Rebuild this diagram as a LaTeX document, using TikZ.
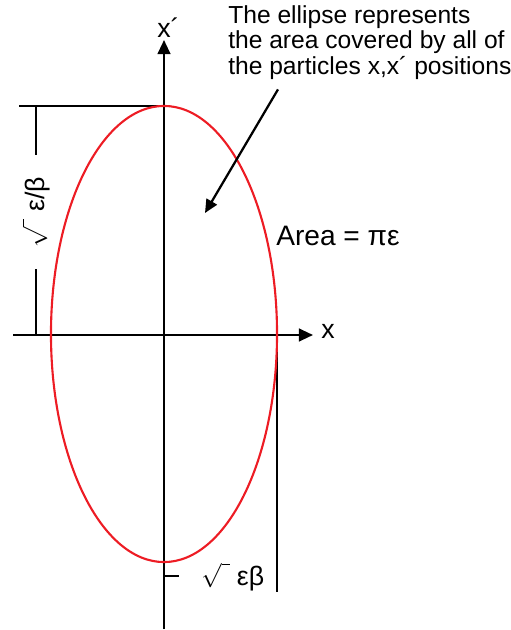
\documentclass[tikz,border=0pt]{standalone}
\usepackage{fontspec}
\setmainfont{Liberation Sans}
\usetikzlibrary{arrows.meta, positioning}
\definecolor{ellred}{RGB}{237,28,36}

\begin{document}
\begin{tikzpicture}[
    x=0.025cm, y=-0.025cm,
    every node/.style={inner sep=0pt},
    axis/.style={line width=1.6pt, -{Triangle[length=10pt, width=9pt]}},
    dimline/.style={line width=1.7pt},
    curve/.style={draw=ellred, line width=1.5pt},
    pointer/.style={line width=1.6pt, -{Triangle[length=9.5pt, width=8.5pt]}},
    tag/.style={font=\fontsize{19}{22}\selectfont},
    note/.style={align=left, font=\fontsize{17.5}{18.1}\selectfont}
]
\useasboundingbox (0,0) rectangle (511,630);

% Axes
\coordinate (ytop) at (164,40);
\coordinate (ybot) at (164,629);
\coordinate (xleft) at (13,335);
\coordinate (xright) at (313,335);
\draw[axis] (ybot) -- (ytop);
\draw[axis] (xleft) -- (xright);
\node[tag, above=0.05cm of ytop] (xplabel) {x\rlap{´}};
\node[tag, right=0.2cm of xright, anchor=mid west] (xlabel) {x};

% Dimensions
\coordinate (etop) at (164,106);
\coordinate (eright) at (277,335);
\draw[dimline] (etop) -- (19,106);
\node[tag, rotate=90, inner xsep=0.55cm] (hlabel) at (36,212) {$\sqrt{\vphantom{A}\hspace{0.3em}}$ ε/β};
\draw[dimline] (36,106) -- (hlabel.east);
\draw[dimline] (hlabel.west) -- (36,335);
\draw[dimline] (eright) -- (277,592);
\draw[dimline] (164,576) -- (179,576);
\node[tag, anchor=base west] (wlabel) at (201,585) {$\sqrt{\vphantom{A}\hspace{0.3em}}$ εβ};

% Ellipse
\coordinate (c) at (164,334);
\draw[curve] (c) ellipse [x radius=2.825cm, y radius=5.7cm];

% Annotation
\node[note, anchor=north west] (note) at (228,5) {The ellipse represents\\the area covered by all of\\the particles x,x´ positions};
\coordinate (inside) at (205,213);
\draw[pointer] ([shift={(50,10)}]note.south west) -- (inside);
\node[tag, anchor=base west, font=\fontsize{20}{24}\selectfont] (area) at (276,245) {Area = πε};

\end{tikzpicture}
\end{document}
